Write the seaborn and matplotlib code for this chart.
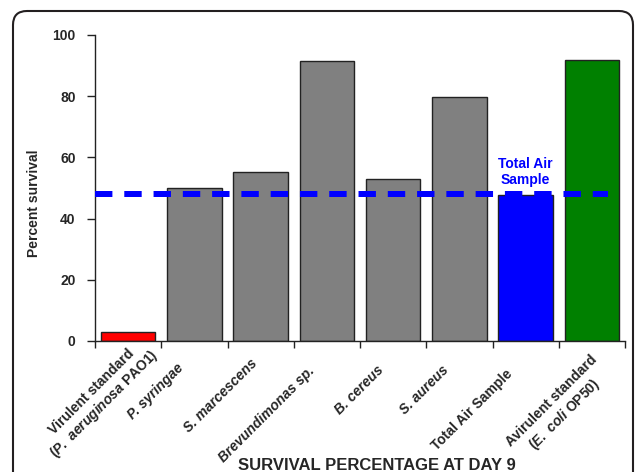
import numpy as np
import pandas as pd
import matplotlib
matplotlib.use("Agg")
import matplotlib.pyplot as plt
import seaborn as sns
from matplotlib.patches import FancyBboxPatch
from matplotlib.transforms import ScaledTranslation, IdentityTransform

# ---------------- data ----------------
categories = ["PAO1", "P. syringae", "S. marcescens", "Brevundimonas sp.",
              "B. cereus", "S. aureus", "Total Air Sample", "OP50"]
tick_labels = ["Virulent standard\n($\\mathit{P.\\ aeruginosa}$ PAO1)",
               "P. syringae", "S. marcescens", "Brevundimonas sp.",
               "B. cereus", "S. aureus", "Total Air Sample",
               "Avirulent standard\n($\\mathit{E.\\ coli}$ OP50)"]
italic_labels = [False, True, True, True, True, True, False, False]
survival = [3.0, 50.0, 55.3, 91.4, 52.8, 79.6, 47.8, 91.9]
bar_colors = ["#ff0000", "#808080", "#808080", "#808080",
              "#808080", "#808080", "#0000ff", "#008000"]
total_air_mean = 47.9
annotation_text = "Total Air\nSample"
y_ticks = [0, 20, 40, 60, 80, 100]
x_title = "SURVIVAL PERCENTAGE AT DAY 9"
y_title = "Percent survival"

# ---------------- style ----------------
sns.set_style("white")
plt.rcParams["font.family"] = ["Liberation Sans", "DejaVu Sans"]
plt.rcParams["font.weight"] = "bold"
plt.rcParams["mathtext.fontset"] = "custom"
plt.rcParams["mathtext.rm"] = "Liberation Sans:bold"
plt.rcParams["mathtext.it"] = "Liberation Sans:italic:bold"
plt.rcParams["mathtext.bf"] = "Liberation Sans:bold"

DPI = 100
fig = plt.figure(figsize=(6.35, 4.72), dpi=DPI)
ax = fig.add_axes([95 / 635, (472 - 341) / 472, 530 / 635, 306 / 472])

df = pd.DataFrame({"category": categories, "survival": survival})
sns.barplot(data=df, x="category", y="survival", hue="category",
            palette=dict(zip(categories, bar_colors)), saturation=1,
            width=0.82, edgecolor="#222222", linewidth=1.0,
            legend=False, ax=ax, zorder=2)

ax.axhline(total_air_mean, xmin=0, xmax=0.968, color="#0000ff",
           lw=4.32, linestyle=(0, (2.9, 1.98)), zorder=3)
ax.text(6, 55.2, annotation_text, color="#0000ff", fontsize=10,
        fontweight="bold", ha="center", va="center", multialignment="center")

ax.set_xlim(-0.5, 7.5)
ax.set_ylim(0, 100)
ax.set_yticks(y_ticks)
ax.set_yticklabels([str(v) for v in y_ticks], fontsize=10, fontweight="bold")
ax.tick_params(axis="y", direction="out", length=6, width=1, pad=8,
               color="#222222", left=True)

ax.set_xticks(range(len(categories)))
ax.set_xticks(np.arange(-0.5, len(categories), 1.0), minor=True)
ax.set_xticklabels(tick_labels, rotation=45, ha="right", va="center",
                   rotation_mode="anchor", fontsize=10, fontweight="bold",
                   multialignment="center")
ax.tick_params(axis="x", which="major", length=0, pad=0)
ax.tick_params(axis="x", which="minor", direction="out", length=5, width=1,
               color="#222222", bottom=True)

offsets = [(22, 6), (-13, 25), (-6, 20), (-15, 28), (-12, 27), (-13, 27),
           (-15, 31), (10, 24)]
for lbl, (dx, dy), it in zip(ax.get_xticklabels(), offsets, italic_labels):
    if it:
        lbl.set_fontstyle("italic")
    lbl.set_transform(lbl.get_transform() +
                      ScaledTranslation(dx / DPI, -dy / DPI, fig.dpi_scale_trans))

for s in ["top", "right"]:
    ax.spines[s].set_visible(False)
for s in ["left", "bottom"]:
    ax.spines[s].set_color("#222222")
    ax.spines[s].set_linewidth(1.0)

ax.set_xlabel("")
ax.set_ylabel(y_title, fontsize=10, fontweight="bold")
ax.yaxis.set_label_coords(-0.102, 0.451)
fig.text(376.5 / 635, (472 - 469.5) / 472, x_title, fontsize=12,
         fontweight="bold", ha="center", va="baseline")

frame = FancyBboxPatch((13, -30), 620, 491,
                       boxstyle="round,pad=0,rounding_size=14",
                       transform=IdentityTransform(), fill=False,
                       edgecolor="#231f20", linewidth=1.5)
fig.patches.append(frame)

fig.savefig("out.png", dpi=DPI)
